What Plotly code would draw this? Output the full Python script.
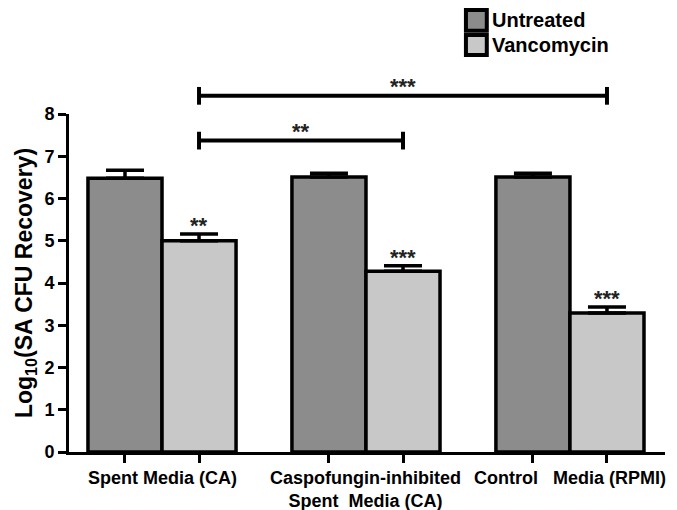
import plotly.graph_objects as go

# ---- data ----
groups = ["Spent Media (CA)",
          "Caspofungin-inhibited<br>Spent\u00a0 Media (CA)",
          "Control\u00a0\u00a0 Media (RPMI)"]
series_names = ["Untreated", "Vancomycin"]
untreated = [6.48, 6.51, 6.51]
untreated_err = [0.19, 0.09, 0.09]
vancomycin = [5.00, 4.28, 3.29]
vancomycin_err = [0.16, 0.13, 0.14]
bar_stars = ["**", "***", "***"]
# comparisons between vancomycin bars: (group a, group b, label, bracket height)
comparisons = [(0, 1, "**", 7.37), (0, 2, "***", 8.43)]
y_ticks = [0, 1, 2, 3, 4, 5, 6, 7, 8]

# ---- layout params ----
BAR_W = 0.363
OFF = BAR_W / 2
XR = [-0.456, 2.466]
YR = [0, 8]
FONT = "Liberation Sans, Arial, sans-serif"
C_UNT = "#8c8c8c"
C_VAN = "#c8c8c8"

gx = list(range(len(groups)))
x_unt = [g - OFF for g in gx]
x_van = [g + OFF for g in gx]


def xd(v):
    return (v - XR[0]) / (XR[1] - XR[0])


def yd(v):
    return (v - YR[0]) / (YR[1] - YR[0])


fig = go.Figure()
for xs, ys, errs, col, name in [(x_unt, untreated, untreated_err, C_UNT, series_names[0]),
                                (x_van, vancomycin, vancomycin_err, C_VAN, series_names[1])]:
    fig.add_trace(go.Bar(
        x=xs, y=ys, width=BAR_W, name=name,
        marker=dict(color=col, line=dict(color="black", width=3.5)),
        error_y=dict(type="data", array=errs, arrayminus=[0] * len(errs),
                     symmetric=False, color="black", thickness=3.5, width=19),
        showlegend=False,
    ))

annotations = []
shapes = []
STAR_FONT = dict(family=FONT, size=22, color="#222222")

# stars above vancomycin bars
for x, y, e, s in zip(x_van, vancomycin, vancomycin_err, bar_stars):
    annotations.append(dict(x=x, y=y + e, xref="x", yref="y", text="<b>" + s + "</b>",
                            showarrow=False, yanchor="bottom", yshift=-6, font=STAR_FONT))

# brackets
for a, b, s, h in comparisons:
    x0, x1 = xd(x_van[a]), xd(x_van[b])
    yy = yd(h)
    dy = 0.21 / (YR[1] - YR[0])
    line = dict(color="black", width=4)
    shapes.append(dict(type="line", xref="x domain", yref="y domain", x0=x0, x1=x1, y0=yy, y1=yy, line=line))
    shapes.append(dict(type="line", xref="x domain", yref="y domain", x0=x0, x1=x0, y0=yy - dy, y1=yy + dy, line=line))
    shapes.append(dict(type="line", xref="x domain", yref="y domain", x0=x1, x1=x1, y0=yy - dy, y1=yy + dy, line=line))
    annotations.append(dict(x=(x0 + x1) / 2, y=yy, xref="x domain", yref="y domain",
                            text="<b>" + s + "</b>", showarrow=False, yanchor="bottom", yshift=-5,
                            font=STAR_FONT))

# group labels
for g, lab in zip(gx, groups):
    annotations.append(dict(x=g, y=0, xref="x", yref="paper", text="<b>" + lab + "</b>",
                            showarrow=False, yanchor="top", yshift=-14,
                            font=dict(family=FONT, size=18, color="black")))

# manual legend
leg_x0, leg_x1 = 0.666, 0.701
leg_rows = [(1.3077, 1.2465, C_UNT), (1.2337, 1.1746, C_VAN)]
for (top, bot, col), name in zip(leg_rows, series_names):
    shapes.append(dict(type="rect", xref="paper", yref="paper", x0=leg_x0, x1=leg_x1,
                       y0=bot, y1=top, fillcolor=col, line=dict(color="black", width=4)))
    annotations.append(dict(x=leg_x1 + 0.006, y=(top + bot) / 2, xref="paper", yref="paper",
                            text="<b>" + name + "</b>", showarrow=False,
                            xanchor="left", yanchor="middle",
                            font=dict(family=FONT, size=20, color="black")))

fig.update_layout(
    width=677, height=510,
    margin=dict(l=69, r=12, t=114, b=58),
    paper_bgcolor="white", plot_bgcolor="white",
    barmode="overlay",
    shapes=shapes, annotations=annotations,
    font=dict(family=FONT, color="black"),
    xaxis=dict(range=XR, tickvals=x_unt + x_van, showticklabels=False,
               ticks="outside", ticklen=8, tickwidth=2.5, tickcolor="black",
               showline=True, linecolor="black", linewidth=3,
               showgrid=False, zeroline=False, fixedrange=True),
    yaxis=dict(range=YR, tickvals=y_ticks, ticktext=["<b>%d</b>" % t for t in y_ticks],
               ticks="outside", ticklen=8, tickwidth=2.5, tickcolor="black",
               tickfont=dict(family=FONT, size=18, color="black"),
               showline=True, linecolor="black", linewidth=3,
               showgrid=False, zeroline=False, fixedrange=True,
               title=dict(text="<b>Log<sub>10</sub>(SA CFU Recovery)</b>", standoff=6,
                          font=dict(family=FONT, size=23, color="black"))),
)

fig.write_html("out.html", config={"displayModeBar": False},
               post_script="document.body.style.margin='0';")
